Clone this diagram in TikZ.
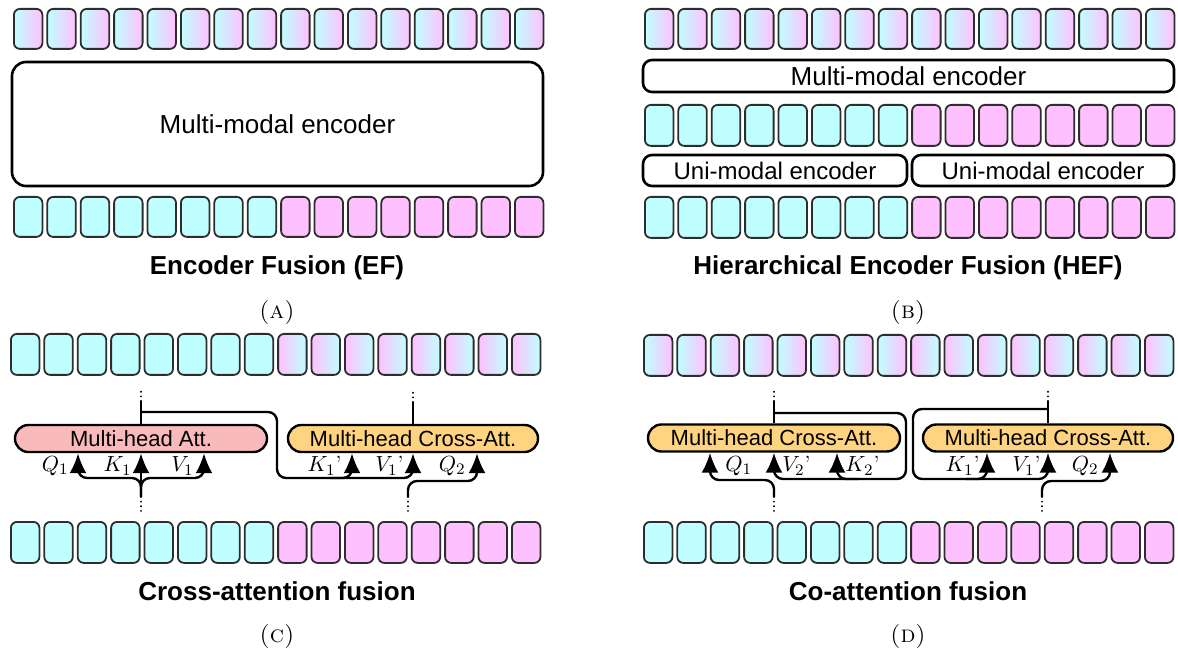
\documentclass[tikz,border=0pt]{standalone}
\usepackage{fontspec}
\newfontfamily\sansfont{Liberation Sans}
\usetikzlibrary{arrows.meta}

\definecolor{tokcyan}{RGB}{192,255,255}
\definecolor{tokpink}{RGB}{255,192,255}
\definecolor{attred}{RGB}{248,186,186}
\definecolor{attorange}{RGB}{255,212,128}
\definecolor{tokline}{RGB}{45,45,45}

\tikzset{
  tok/.style={draw=tokline, line width=0.9pt, rounded corners=3pt,
    minimum width=14.25pt, inner sep=0pt, anchor=north west},
  encbox/.style={draw, line width=1.3pt, inner sep=0pt,
    font=\sansfont\fontsize{13}{15}\selectfont},
  attbox/.style={draw, line width=1.2pt, rounded corners=6.7pt,
    minimum height=13.5pt, inner sep=0pt,
    font=\sansfont\fontsize{11}{13}\selectfont},
  flow/.style={line width=1.2pt, rounded corners=4.5pt},
  flowarrow/.style={flow, -{Latex[length=10pt,width=8.5pt]}},
  dots/.style={line width=1.1pt, line cap=round, dash pattern=on 0.01pt off 2.3pt},
  qlab/.style={font=\fontsize{11}{13}\selectfont, inner sep=0pt},
  title/.style={font=\sansfont\bfseries\fontsize{13}{15}\selectfont},
  subcap/.style={font=\fontsize{12}{14}\selectfont},
}

% one row of 16 tokens: name prefix, left x, top y, height (px), list of left/right colours
\newcommand\tokenrow[5]{%
  \foreach \lc/\rc [count=\i] in #5
    \node[tok, minimum height=#4*0.5pt, left color=\lc, right color=\rc]
      (#1\i) at ({#2+(\i-1)*33.4}, #3) {};
}

\def\rowgrad{tokcyan/tokpink,tokcyan/tokpink,tokcyan/tokpink,tokcyan/tokpink,
  tokcyan/tokpink,tokcyan/tokpink,tokcyan/tokpink,tokcyan/tokpink,
  tokcyan/tokpink,tokcyan/tokpink,tokcyan/tokpink,tokcyan/tokpink,
  tokcyan/tokpink,tokcyan/tokpink,tokcyan/tokpink,tokcyan/tokpink}
\def\rowsplit{tokcyan/tokcyan,tokcyan/tokcyan,tokcyan/tokcyan,tokcyan/tokcyan,
  tokcyan/tokcyan,tokcyan/tokcyan,tokcyan/tokcyan,tokcyan/tokcyan,
  tokpink/tokpink,tokpink/tokpink,tokpink/tokpink,tokpink/tokpink,
  tokpink/tokpink,tokpink/tokpink,tokpink/tokpink,tokpink/tokpink}
\def\rowcross{tokcyan/tokcyan,tokcyan/tokcyan,tokcyan/tokcyan,tokcyan/tokcyan,
  tokcyan/tokcyan,tokcyan/tokcyan,tokcyan/tokcyan,tokcyan/tokcyan,
  tokpink/tokcyan,tokpink/tokcyan,tokpink/tokcyan,tokpink/tokcyan,
  tokpink/tokcyan,tokpink/tokcyan,tokpink/tokcyan,tokpink/tokcyan}
\def\rowco{tokcyan/tokpink,tokcyan/tokpink,tokcyan/tokpink,tokcyan/tokpink,
  tokcyan/tokpink,tokcyan/tokpink,tokcyan/tokpink,tokcyan/tokpink,
  tokpink/tokcyan,tokpink/tokcyan,tokpink/tokcyan,tokpink/tokcyan,
  tokpink/tokcyan,tokpink/tokcyan,tokpink/tokcyan,tokpink/tokcyan}

\begin{document}
\begin{tikzpicture}[x=0.5pt, y=-0.5pt]
\useasboundingbox (0,0) rectangle (1178,657);

% ---------------- (a) encoder fusion ----------------
\tokenrow{aTop}{13}{8}{40}{\rowgrad}
\node[encbox, rounded corners=7pt, minimum width=265.5pt, minimum height=62pt]
  (encA) at (277.5,124) {Multi-modal encoder};
\tokenrow{aBot}{13}{196}{40}{\rowsplit}
\node[title] (titleA) at (277,268) {Encoder Fusion (EF)};
\node[subcap] (capA) at (277,313) {\textsc{(a)}};

% ---------------- (b) hierarchical encoder fusion ----------------
\tokenrow{bTop}{644}{8}{40}{\rowgrad}
\node[encbox, rounded corners=4.5pt, minimum width=265.5pt, minimum height=16pt]
  (encB) at (908.5,76) {Multi-modal encoder};
\tokenrow{bMid}{644}{104}{41}{\rowsplit}
\node[encbox, font=\sansfont\fontsize{12}{14}\selectfont, rounded corners=4.5pt,
  minimum width=132pt, minimum height=15.5pt] (uniL) at (775,170.5) {Uni-modal encoder};
\node[encbox, font=\sansfont\fontsize{12}{14}\selectfont, rounded corners=4.5pt,
  minimum width=131pt, minimum height=15.5pt] (uniR) at (1043,170.5) {Uni-modal encoder};
\tokenrow{bBot}{644}{196}{41}{\rowsplit}
\node[title] (titleB) at (908,268) {Hierarchical Encoder Fusion (HEF)};
\node[subcap] (capB) at (908,313) {\textsc{(b)}};

% ---------------- (c) cross-attention fusion ----------------
\tokenrow{cTop}{10}{333}{41}{\rowcross}
\node[attbox, fill=attred, minimum width=126pt] (attC) at (141,438.5) {Multi-head Att.};
\node[attbox, fill=attorange, minimum width=125pt] (crossC) at (413,438.5) {Multi-head Cross-Att.};
\tokenrow{cBot}{10}{521}{41}{\rowsplit}
\node[title] (titleC) at (277,591) {Cross-attention fusion};
\node[subcap] (capC) at (277,636) {\textsc{(c)}};

% self-attention inputs
\coordinate (cAin) at (141,497);
\coordinate (cAq) at (78,478);
\coordinate (cAv) at (204,478);
\draw[dots] (cAin) -- ++(0,14);
\draw[flowarrow] (cAin) -- (attC.south);
\draw[flowarrow] (cAin) |- (cAq) -- (cAq |- attC.south);
\draw[flowarrow] (cAin) |- (cAv) -- (cAv |- attC.south);
% self-attention output, fed to the cross-attention keys and values
\coordinate (cAout) at (141,401);
\coordinate (cAbranch) at (141,412);
\coordinate (cAturn) at (277,478);
\coordinate (cCk0) at (330,478);
\coordinate (cCk) at (352,478);
\draw[flow] (attC.north) -- (cAout);
\draw[dots] (cAout) -- ++(0,-13);
\draw[flowarrow] (cAbranch) -| (cAturn) -| (crossC.south);
\draw[flowarrow] (cCk0) -| (cCk |- crossC.south);
% cross-attention query and output
\coordinate (cCqin) at (408,497);
\coordinate (cCq) at (477,481);
\draw[dots] (cCqin) -- ++(0,14);
\draw[flowarrow] (cCqin) |- (cCq) -- (cCq |- crossC.south);
\coordinate (cCout) at (413,402);
\draw[flow] (crossC.north) -- (cCout);
\draw[dots] (cCout) -- ++(0,-13);

\node[qlab, anchor=east] (lQa) at (69,466) {$Q_1$};
\node[qlab, anchor=east] (lKa) at (132,466) {$K_1$};
\node[qlab, anchor=east] (lVa) at (194,466) {$V_1$};
\node[qlab, anchor=east] (lKc) at (342,466) {$K_1$'};
\node[qlab, anchor=east] (lVc) at (404,466) {$V_1$'};
\node[qlab, anchor=east] (lQc) at (466,466) {$Q_2$};

% ---------------- (d) co-attention fusion ----------------
\tokenrow{dTop}{643}{334}{41}{\rowco}
\node[attbox, fill=attorange, minimum width=126pt] (crossDL) at (774,438) {Multi-head Cross-Att.};
\node[attbox, fill=attorange, minimum width=125pt] (crossDR) at (1048,438) {Multi-head Cross-Att.};
\tokenrow{dBot}{643}{521}{41}{\rowsplit}
\node[title] (titleD) at (908,591) {Co-attention fusion};
\node[subcap] (capD) at (908,636) {\textsc{(d)}};

% left block
\coordinate (dLout) at (774,401);
\coordinate (dLbranch) at (774,413);
\coordinate (dLturn) at (906,479);
\coordinate (dLk0) at (858,479);
\coordinate (dLk) at (837,479);
\coordinate (dLqin) at (774,497);
\coordinate (dLq) at (710,480);
\draw[flow] (crossDL.north) -- (dLout);
\draw[dots] (dLout) -- ++(0,-13);
\draw[flowarrow] (dLbranch) -| (dLturn) -| (crossDL.south);
\draw[flowarrow] (dLk0) -| (dLk |- crossDL.south);
\draw[dots] (dLqin) -- ++(0,14);
\draw[flowarrow] (dLqin) |- (dLq) -- (dLq |- crossDL.south);

% right block
\coordinate (dRout) at (1048,401);
\coordinate (dRbranch) at (1048,409);
\coordinate (dRturn) at (913,479);
\coordinate (dRk0) at (966,479);
\coordinate (dRk) at (987,479);
\coordinate (dRqin) at (1042,497);
\coordinate (dRq) at (1110,481);
\draw[flow] (crossDR.north) -- (dRout);
\draw[dots] (dRout) -- ++(0,-13);
\draw[flowarrow] (dRbranch) -| (dRturn) -| (crossDR.south);
\draw[flowarrow] (dRk0) -| (dRk |- crossDR.south);
\draw[dots] (dRqin) -- ++(0,14);
\draw[flowarrow] (dRqin) |- (dRq) -- (dRq |- crossDR.south);

\node[qlab, anchor=west] (lQdl) at (725,466) {$Q_1$};
\node[qlab, anchor=west] (lVdl) at (782,466) {$V_2$'};
\node[qlab, anchor=west] (lKdl) at (845,466) {$K_2$'};
\node[qlab, anchor=east] (lKdr) at (980,466) {$K_1$'};
\node[qlab, anchor=east] (lVdr) at (1041,466) {$V_1$'};
\node[qlab, anchor=east] (lQdr) at (1099,466) {$Q_2$};
\end{tikzpicture}
\end{document}
